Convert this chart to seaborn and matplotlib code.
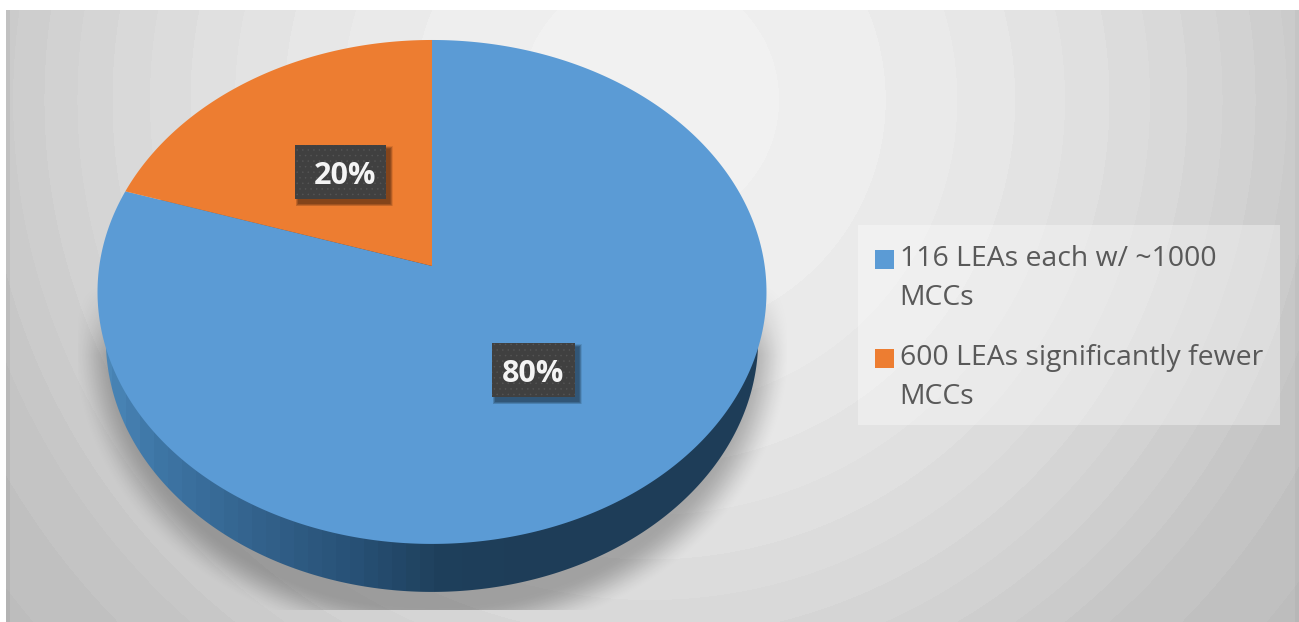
"""
Pie chart of LEAs and their share of MCCs, drawn with a tilted 3D look
"""
import numpy as np
import matplotlib
matplotlib.use("Agg")
import matplotlib.pyplot as plt
import seaborn as sns
from matplotlib.legend_handler import HandlerPatch
from matplotlib.patches import Patch, Polygon, Rectangle

# Data
categories = ["116 LEAs each w/ ~1000\nMCCs", "600 LEAs significantly fewer\nMCCs"]
shares = [80, 20]
share_labels = ["80%", "20%"]

W, H = 1299, 622
CX, APEX_Y = 432, 266      # where the slices meet
RX, RY, TILT = 332.7, 249.3, 0.103
DEPTH = 48

sns.set_theme(style="white")
plt.rcParams["font.family"] = ["Open Sans", "DejaVu Sans"]
plt.rcParams["hatch.linewidth"] = 0.3
palette = sns.color_palette(["#5B9BD5", "#ED7D31"])


def project(theta_deg, dy=0.0, sx=1.0):
    """Perspective view of the unit circle, gives pixel x, y"""
    t = np.radians(theta_deg)
    u, v = np.cos(t), np.sin(t)
    d = 1 + TILT * v
    return CX + sx * RX * u / d, APEX_Y + dy - RY * v / d


fig = plt.figure(figsize=(W / 100, H / 100), dpi=100)
ax = fig.add_axes([0, 0, 1, 1])

# the pie gives the slice angles from the values
wedges, _ = ax.pie(shares, startangle=90, counterclock=False, colors=palette)
angles = [(w.theta1, w.theta2) for w in wedges]
for w in wedges:
    w.remove()

ax.set_aspect("auto")
ax.set_xlim(0, W)
ax.set_ylim(H, 0)
ax.axis("off")

# Background gradient with visible bands
yy, xx = np.mgrid[0:H, 0:W] + 0.5
fall = 9e-5 * ((xx - 650) ** 2 + (yy - 100) ** 2)
fall = np.where(fall > 45, 45 + (fall - 45) * 0.4, fall)
grey = 243 - fall
grey = np.floor(grey / 3.5) * 3.5
grey[(xx < 10)] -= 10
grey[(xx > 1295)] -= 6
grey = np.clip(grey, 0, 255) / 255
rgba = np.dstack([grey, grey, grey, np.ones_like(grey)])
rgba[(xx < 6) | (yy < 10), 3] = 0
ax.imshow(rgba, extent=(0, W, H, 0), aspect="auto", zorder=0, interpolation="nearest")

# Soft shadow under the pie
rho = np.hypot((xx - CX) / 360, (yy - 345) / 300)
alpha = np.clip((1.0 - rho) / 0.13, 0, 1)
alpha = alpha * alpha * (3 - 2 * alpha) * np.clip((yy - 285) / 70, 0, 1) * 0.27
alpha[(xx < 78) | (xx > 787) | (yy > 610)] = 0
shadow = np.zeros((H, W, 4))
shadow[..., 3] = alpha
ax.imshow(shadow, extent=(0, W, H, 0), aspect="auto", zorder=1)

# Side of the pie, lighter to the left and dark from the middle on
theta = np.linspace(0, 360, 721)
side_x, side_y = project(theta, dy=DEPTH, sx=0.975)
side_clip = Polygon(np.column_stack([side_x, side_y]), closed=True,
                    transform=ax.transData, fc="none", ec="none")
ax.add_patch(side_clip)
stops_x = [95, 150, 250, 350, 432, 520, 780]
stops_r = [0x4C, 0x3E, 0x33, 0x27, 0x1F, 0x1E, 0x1E]
stops_g = [0x88, 0x76, 0x62, 0x50, 0x40, 0x3D, 0x3D]
stops_b = [0xBA, 0xA6, 0x8C, 0x75, 0x5C, 0x58, 0x58]
col = np.arange(W) + 0.5
col = np.floor(col / 14) * 14
strip = np.dstack([np.interp(col, stops_x, s)[None, :] / 255
                   for s in (stops_r, stops_g, stops_b)])
side = ax.imshow(strip, extent=(0, W, H, 0), aspect="auto", zorder=2, interpolation="nearest")
side.set_clip_path(side_clip)

# Top of the pie
for (t1, t2), color in zip(angles, palette):
    arc_x, arc_y = project(np.linspace(t1, t2, 400))
    ax.fill(np.r_[CX, arc_x], np.r_[APEX_Y, arc_y], color=color, lw=0, zorder=3)


def value_label(text, x0, x1, y0, y1, tx):
    # blurred drop shadow from stacked rectangles
    for grow in range(6, 0, -1):
        ax.add_patch(Rectangle((x0 + 4 - grow / 2, y0 + 4 - grow / 2), x1 - x0 + grow, y1 - y0 + grow,
                               fc="black", ec="none", alpha=0.09, zorder=4))
    ax.add_patch(Rectangle((x0, y0), x1 - x0, y1 - y0, fc="#404040", ec="#565656",
                           lw=0, hatch="...", zorder=5))
    ax.text(tx, (y0 + y1) / 2, text, color="#F4F4F4", fontsize=22, fontweight="bold",
            ha="center", va="center_baseline", zorder=6)


value_label(share_labels[0], 492, 575, 343, 397, 533)
value_label(share_labels[1], 295, 386, 145, 199, 345)


def raised_square(legend, orig_handle, xdescent, ydescent, width, height, fontsize):
    # square sits beside the first line of the wrapped label
    return Rectangle((-xdescent, -ydescent + 14.4), width, height)


# Legend on a pale translucent panel
ax.add_patch(Rectangle((858, 225), 422, 200, fc="white", ec="none", alpha=0.35, zorder=3))
handles = [Patch(facecolor=c, edgecolor="none", label=l) for c, l in zip(palette, categories)]
leg = ax.legend(handles=handles, loc="upper left", bbox_to_anchor=(864 / W, 1 - 234 / H),
                bbox_transform=ax.transAxes, frameon=False, fontsize=20.4, labelcolor="#595959",
                handlelength=0.66, handleheight=0.66, handletextpad=0.2, labelspacing=1.15,
                borderaxespad=0, borderpad=0.4,
                handler_map={Patch: HandlerPatch(patch_func=raised_square)})
for t in leg.get_texts():
    t.set_linespacing(1.5)

fig.savefig("out.png", dpi=100)
